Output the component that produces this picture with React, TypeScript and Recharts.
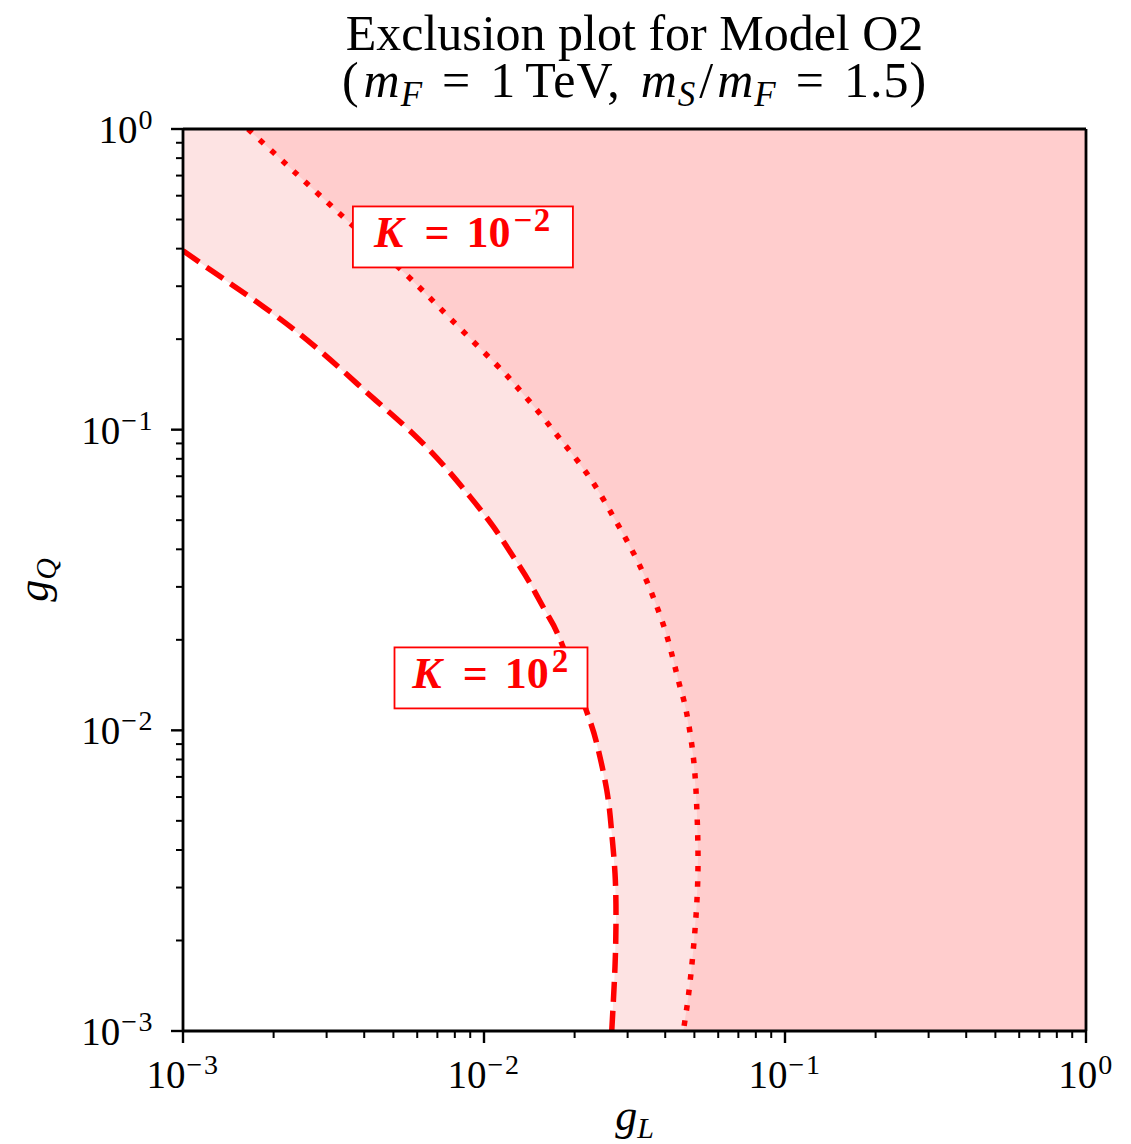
import React from 'react';
import {
  ComposedChart,
  Area,
  Line,
  XAxis,
  YAxis,
  ReferenceLine,
  ReferenceDot,
} from 'recharts';

const W = 1131;
const H = 1144;
const FONT = '"Liberation Serif", "DejaVu Serif", serif';
const RED = '#ff0000';
const FILL_LIGHT = '#fde3e3';
const FILL_DARK = '#ffcdcd';
const SPINE = 2.8;

// Contour K = 10^2 (dashed)
const K_HI_GL = [0.001, 0.00126, 0.00185, 0.00271, 0.00381, 0.004627, 0.005823, 0.007323, 0.008985, 0.01074, 0.01251, 0.01422, 0.01615, 0.01811, 0.02194, 0.02368, 0.02557, 0.02657, 0.02724, 0.02745, 0.02724, 0.02657];
const K_HI_GQ = [0.394, 0.335, 0.2565, 0.191, 0.1415, 0.119, 0.09676, 0.0763, 0.05988, 0.04757, 0.03782, 0.03084, 0.02451, 0.01949, 0.01154, 0.009059, 0.006337, 0.004548, 0.003347, 0.002401, 0.001638, 0.001];

// Contour K = 10^-2 (dotted)
const K_LO_GL = [0.001644, 0.002386, 0.003498, 0.005536, 0.007709, 0.01102, 0.01284, 0.01515, 0.01765, 0.02057, 0.02368, 0.02689, 0.03016, 0.03382, 0.03699, 0.03993, 0.04255, 0.04479, 0.0469, 0.04958, 0.05088, 0.0514, 0.051, 0.04958, 0.04773, 0.04594];
const K_LO_GQ = [1, 0.7085, 0.498, 0.3268, 0.2347, 0.1641, 0.139, 0.1148, 0.09478, 0.07824, 0.06385, 0.05136, 0.04191, 0.0333, 0.02679, 0.02158, 0.01714, 0.01397, 0.01169, 0.008177, 0.005647, 0.003903, 0.002729, 0.001861, 0.001302, 0.001];

// Axis range and tick values (decades with 2..9 minors)
const AXIS_MIN = 0.001;
const AXIS_MAX = 1;
const DECADES = [-3, -2, -1];
const TICKS: number[] = [];
DECADES.forEach((k) => {
  for (let m = 1; m <= 9; m++) TICKS.push(parseFloat((m * Math.pow(10, k)).toPrecision(3)));
});
TICKS.push(1);

// Contour labels: exponent of K and anchor (box centre) in data coordinates
const LABEL_EXP = [-2, 2];
const LABEL_GL = [0.00851, 0.01055];
const LABEL_GQ = [0.4375, 0.01494];
const LABEL_BOX_W = [220, 193];

const toRows = (gl: number[], gq: number[]) => gl.map((v, i) => ({ gL: v, gQ: gq[i] }));
const kHigh = toRows(K_HI_GL, K_HI_GQ);
const kLow = toRows(K_LO_GL, K_LO_GQ);
// polygons closed through the lower-right corner; Area closes along gQ = 1
const corner = { gL: AXIS_MAX, gQ: AXIS_MIN };
const lightFill = [...kHigh, corner];
const darkFill = [...kLow, corner];

const isMajor = (v: number) => Math.abs(Math.log10(v) - Math.round(Math.log10(v))) < 1e-9;
const expText = (v: number) => {
  const e = Math.round(Math.log10(v));
  return e < 0 ? `\u2212${-e}` : `${e}`;
};

const TickLabel = ({ x, y, anchor, v }: any) => (
  <text x={x} y={y} textAnchor={anchor} fontFamily={FONT} fontSize={39} fill="#000">
    10
    <tspan dy={-14} dx={1} fontSize={28} letterSpacing={1.5}>{expText(v)}</tspan>
  </text>
);

const XTick = (props: any) => {
  const { x, y, payload } = props;
  const v = payload.value;
  const major = isMajor(v);
  return (
    <g>
      <line x1={x} x2={x} y1={y} y2={y + (major ? 12 : 7)} stroke="#000" strokeWidth={major ? 2.4 : 2} />
      {major && <TickLabel x={x} y={y + 57} anchor="middle" v={v} />}
    </g>
  );
};

const YTick = (props: any) => {
  const { x, y, payload } = props;
  const v = payload.value;
  const major = isMajor(v);
  return (
    <g>
      <line x1={x - (major ? 12 : 7)} x2={x} y1={y} y2={y} stroke="#000" strokeWidth={major ? 2.4 : 2} />
      {major && <TickLabel x={x - 29} y={y + 14} anchor="end" v={v} />}
    </g>
  );
};

const XTitle = (props: any) => {
  const vb = props.viewBox || {};
  const cx = vb.x + vb.width / 2;
  return (
    <text x={cx} y={vb.y + 99} textAnchor="middle" fontFamily={FONT} fontSize={44} fill="#000">
      <tspan fontStyle="italic">g</tspan>
      <tspan dy={8} fontSize={30} fontStyle="italic">L</tspan>
    </text>
  );
};

const YTitle = (props: any) => {
  const vb = props.viewBox || {};
  const x = vb.x + 48;
  const y = vb.y + vb.height / 2;
  return (
    <text x={x} y={y} transform={`rotate(-90, ${x}, ${y})`} textAnchor="middle" fontFamily={FONT} fontSize={44} fill="#000">
      <tspan fontStyle="italic">g</tspan>
      <tspan dy={8} fontSize={30} fontStyle="italic">Q</tspan>
    </text>
  );
};

const LabelBox = (props: any) => {
  const { cx, cy, exp, boxW } = props;
  const bh = 61;
  return (
    <g>
      <rect x={cx - boxW / 2} y={cy - bh / 2} width={boxW} height={bh} fill="#fff" stroke={RED} strokeWidth={1.8} />
      <text x={cx} y={cy + 10} textAnchor="middle" fontFamily={FONT} fontWeight="bold" fontSize={44} fill={RED}>
        <tspan fontStyle="italic">K</tspan>
        <tspan dx={21}>=</tspan>
        <tspan dx={17}>10</tspan>
        <tspan dy={-16} dx={3} fontSize={33} letterSpacing={1.5}>{exp < 0 ? `\u2212${-exp}` : `${exp}`}</tspan>
      </text>
    </g>
  );
};

const Title = () => (
  <svg width={W} height={120} style={{ position: 'absolute', left: 0, top: 0, pointerEvents: 'none' }}>
    <text textAnchor="middle" fontFamily={FONT} fontSize={50} fill="#000">
      <tspan x={634.5} y={50}>Exclusion plot for Model O2</tspan>
      <tspan x={634.5} y={97} letterSpacing={1}>(</tspan>
      <tspan fontStyle="italic" dx={4} letterSpacing={1}>m</tspan>
      <tspan dy={9} fontSize={35} fontStyle="italic">F</tspan>
      <tspan dy={-9} dx={20}>=</tspan>
      <tspan dx={20}>1</tspan>
      <tspan dx={10} letterSpacing={1}>TeV,</tspan>
      <tspan dx={20} fontStyle="italic" letterSpacing={1}>m</tspan>
      <tspan dy={9} fontSize={35} fontStyle="italic">S</tspan>
      <tspan dy={-9} dx={4}>/</tspan>
      <tspan dx={4} fontStyle="italic" letterSpacing={1}>m</tspan>
      <tspan dy={9} fontSize={35} fontStyle="italic">F</tspan>
      <tspan dy={-9} dx={20}>=</tspan>
      <tspan dx={20} letterSpacing={1}>1.5)</tspan>
    </text>
  </svg>
);

export default function App() {
  return (
    <div style={{ position: 'absolute', left: 0, top: 0, width: W, height: H, background: '#fff' }}>
      <ComposedChart width={W} height={H} margin={{ top: 129, right: 45, bottom: 0, left: 0 }}>
        <XAxis
          type="number"
          dataKey="gL"
          scale="log"
          domain={[AXIS_MIN, AXIS_MAX]}
          allowDataOverflow
          ticks={TICKS}
          interval={0}
          tickSize={0}
          tickMargin={0}
          tickLine={false}
          tick={<XTick />}
          axisLine={{ stroke: '#000', strokeWidth: SPINE }}
          height={113}
          label={<XTitle />}
        />
        <YAxis
          type="number"
          dataKey="gQ"
          scale="log"
          domain={[AXIS_MIN, AXIS_MAX]}
          allowDataOverflow
          ticks={TICKS}
          interval={0}
          tickSize={0}
          tickMargin={0}
          tickLine={false}
          tick={<YTick />}
          axisLine={{ stroke: '#000', strokeWidth: SPINE }}
          width={183}
          label={<YTitle />}
        />
        <Area data={lightFill} dataKey="gQ" type="linear" baseValue={AXIS_MAX} fill={FILL_LIGHT} fillOpacity={1} stroke="none" isAnimationActive={false} />
        <Area data={darkFill} dataKey="gQ" type="linear" baseValue={AXIS_MAX} fill={FILL_DARK} fillOpacity={1} stroke="none" isAnimationActive={false} />
        <Line data={kHigh} dataKey="gQ" type="natural" stroke={RED} strokeWidth={5.5} strokeDasharray="20 9" dot={false} activeDot={false} isAnimationActive={false} />
        <Line data={kLow} dataKey="gQ" type="natural" stroke={RED} strokeWidth={5.5} strokeDasharray="5.5 10" dot={false} activeDot={false} isAnimationActive={false} />
        <ReferenceLine x={AXIS_MAX} stroke="#000" strokeWidth={SPINE} />
        <ReferenceLine y={AXIS_MAX} stroke="#000" strokeWidth={SPINE} />
        {LABEL_EXP.map((e, i) => (
          <ReferenceDot
            key={i}
            x={LABEL_GL[i]}
            y={LABEL_GQ[i]}
            r={0}
            shape={<LabelBox exp={e} boxW={LABEL_BOX_W[i]} />}
          />
        ))}
      </ComposedChart>
      <Title />
    </div>
  );
}
